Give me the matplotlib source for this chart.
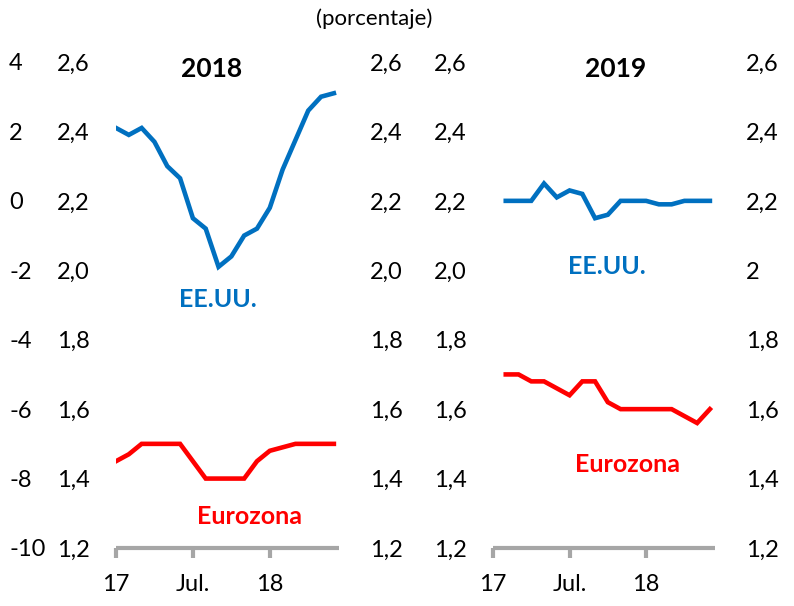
import numpy as np
import matplotlib
matplotlib.use('Agg')
import matplotlib.pyplot as plt

plt.rcParams['font.family'] = ['Lato', 'DejaVu Sans']

# months counted from Jan 2017 (0) ; ticks every 6 months
xticks = [0, 6, 12]
xticklabels = ['17', 'Jul.', '18']

# 2018 panel
x18 = np.arange(0, 18)
eeuu18 = [2.41, 2.39, 2.41, 2.37, 2.30, 2.265, 2.15, 2.12, 2.01, 2.04,
          2.10, 2.12, 2.18, 2.29, 2.375, 2.46, 2.50, 2.51]
euro18 = [1.45, 1.47, 1.50, 1.50, 1.50, 1.50, 1.45, 1.40, 1.40, 1.40,
          1.40, 1.45, 1.48, 1.49, 1.50, 1.50, 1.50, 1.50]

# 2019 panel
x19 = np.arange(1, 18)
eeuu19 = [2.20, 2.20, 2.20, 2.25, 2.21, 2.23, 2.22, 2.15, 2.16, 2.20,
          2.20, 2.20, 2.19, 2.19, 2.20, 2.20, 2.20]
euro19 = [1.70, 1.70, 1.68, 1.68, 1.66, 1.64, 1.68, 1.68, 1.62, 1.60,
          1.60, 1.60, 1.60, 1.60, 1.58, 1.56, 1.60]

yticks = [1.2, 1.4, 1.6, 1.8, 2.0, 2.2, 2.4, 2.6]
ylab = ['1,2', '1,4', '1,6', '1,8', '2,0', '2,2', '2,4', '2,6']
ylab_r2 = ['1,2', '1,4', '1,6', '1,8', '2', '2,2', '2,4', '2,6']
outer_ticks = [-10, -8, -6, -4, -2, 0, 2, 4]

blue = '#0070C0'
red = '#FF0000'
grey = '#A6A6A6'
fs = 17

W, H = 794, 606
fig = plt.figure(figsize=(W / 100, H / 100), dpi=100)

def make_ax(x0, x1):
    ax = fig.add_axes([x0 / W, (H - 548) / H, (x1 - x0) / W, 486 / H])
    ax.set_xlim(0, 17.4)
    ax.set_ylim(1.2, 2.6)
    for s in ['top', 'left', 'right']:
        ax.spines[s].set_visible(False)
    ax.spines['bottom'].set_color(grey)
    ax.spines['bottom'].set_linewidth(3)
    ax.spines['bottom'].set_capstyle('butt')
    ax.set_xticks(xticks)
    ax.set_xticklabels(xticklabels, fontsize=fs)
    ax.tick_params(axis='x', direction='out', length=7, width=3, color=grey, pad=12)
    ax.set_yticks(yticks)
    ax.set_yticklabels(ylab, fontsize=fs)
    ax.tick_params(axis='y', length=0, pad=19)
    ax.patch.set_alpha(0)
    return ax

ax1 = make_ax(116, 339)
ax1.plot(x18, eeuu18, color=blue, lw=3.3, solid_joinstyle='miter')
ax1.plot(x18, euro18, color=red, lw=3.3, solid_joinstyle='miter')
ax1.text(7.45, 2.58, '2018', fontsize=19, fontweight='bold', ha='center', va='center')
ax1.text(7.95, 1.915, 'EE.UU.', color=blue, fontsize=18, fontweight='bold', ha='center', va='center')
ax1.text(10.44, 1.29, 'Eurozona', color=red, fontsize=18, fontweight='bold', ha='center', va='center')

# outer axis (-10 .. 4) at far left
ax1o = ax1.twinx()
ax1o.set_ylim(-10, 4)
ax1o.yaxis.tick_left()
ax1o.set_yticks(outer_ticks)
ax1o.set_yticklabels([str(v) for v in outer_ticks], fontsize=fs, ha='left')
ax1o.tick_params(axis='y', length=0, pad=77)
for s in ax1o.spines.values():
    s.set_visible(False)

# right labels of left panel
ax1r = ax1.twinx()
ax1r.set_ylim(1.2, 2.6)
ax1r.set_yticks(yticks)
ax1r.set_yticklabels(ylab, fontsize=fs)
ax1r.tick_params(axis='y', length=0, pad=22)
for s in ax1r.spines.values():
    s.set_visible(False)

ax2 = make_ax(493, 715)
ax2.plot(x19, eeuu19, color=blue, lw=3.3, solid_joinstyle='miter')
ax2.plot(x19, euro19, color=red, lw=3.3, solid_joinstyle='miter')
ax2.text(9.6, 2.58, '2019', fontsize=19, fontweight='bold', ha='center', va='center')
ax2.text(8.89, 2.01, 'EE.UU.', color=blue, fontsize=18, fontweight='bold', ha='center', va='center')
ax2.text(10.52, 1.44, 'Eurozona', color=red, fontsize=18, fontweight='bold', ha='center', va='center')

ax2r = ax2.twinx()
ax2r.set_ylim(1.2, 2.6)
ax2r.set_yticks(yticks)
ax2r.set_yticklabels(ylab_r2, fontsize=fs)
ax2r.tick_params(axis='y', length=0, pad=22)
for s in ax2r.spines.values():
    s.set_visible(False)

fig.text(374 / W, 1 - 19 / H, '(porcentaje)', fontsize=16, ha='center', va='center')

fig.savefig('out.png', dpi=100)
